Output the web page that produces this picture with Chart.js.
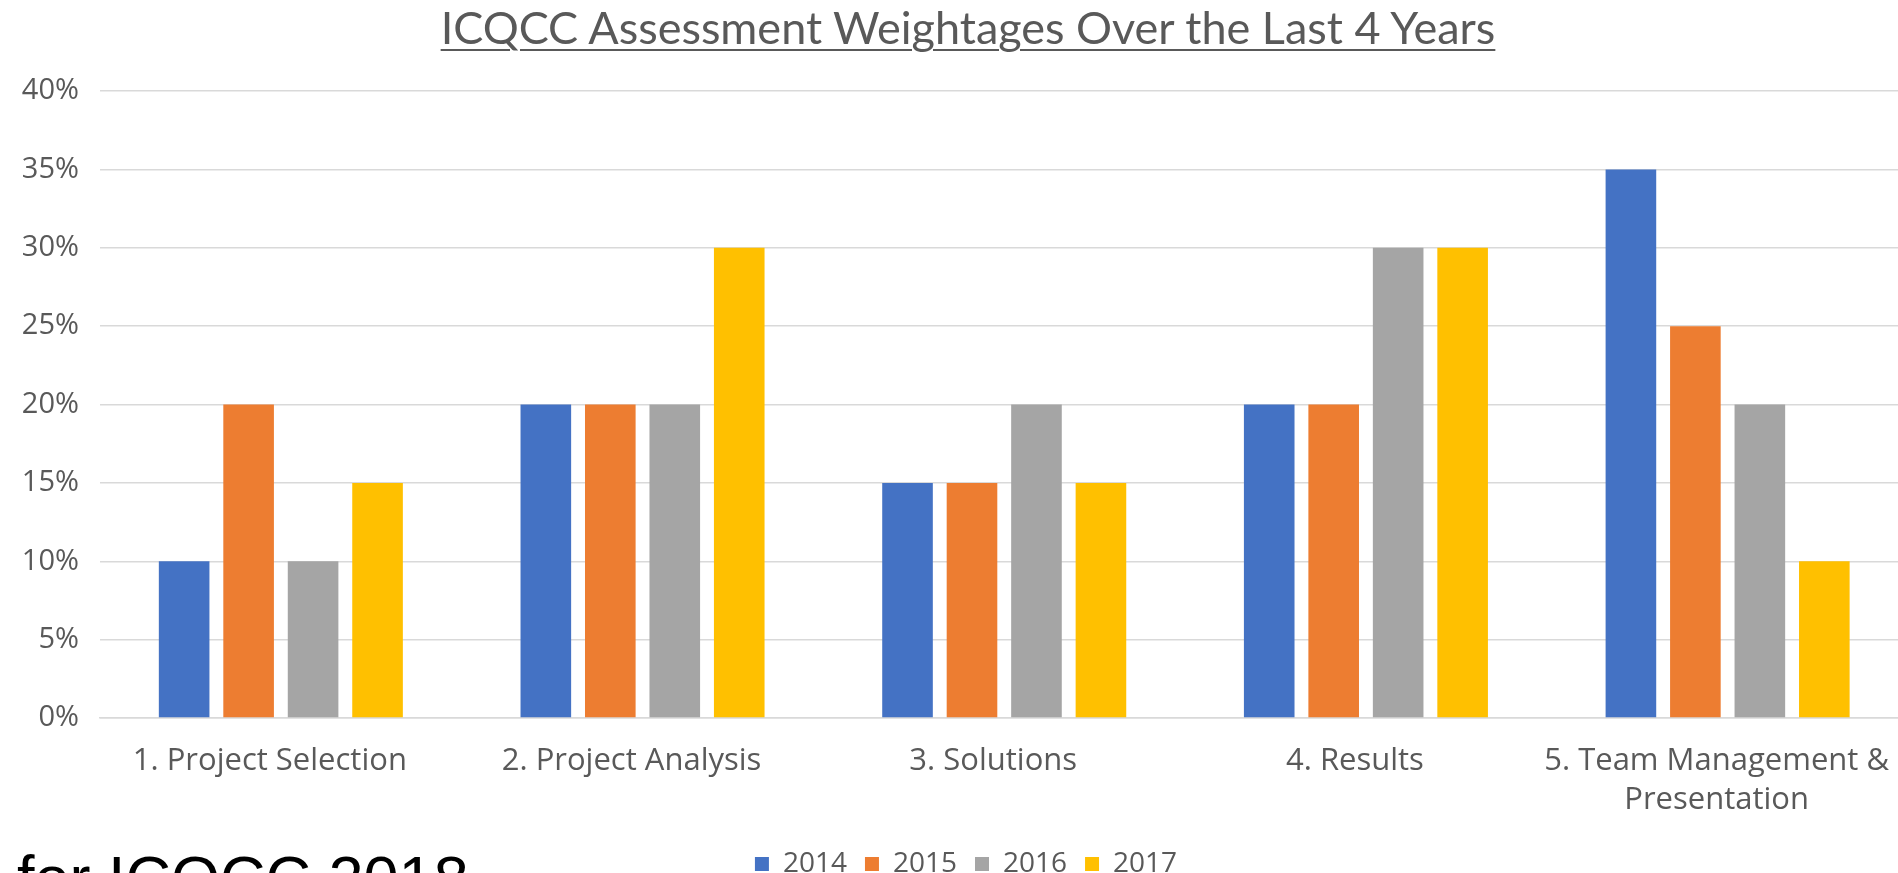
<!DOCTYPE html>
<html>
<head>
<meta charset="utf-8">
<title>ICQCC Assessment Weightages</title>
<script src="https://cdn.jsdelivr.net/npm/chart.js@4"></script>
<style>
  html, body { margin: 0; padding: 0; background: #fff; overflow: hidden; }
  #wrap { position: relative; width: 1898px; height: 873px; overflow: hidden; }
  #chart { position: absolute; left: 0; top: 0; }
  #title {
    position: absolute; left: 0; width: 1936px; top: 0;
    text-align: center; font: 45px Lato, sans-serif; line-height: 54px;
    color: #595959; text-decoration: underline; text-decoration-thickness: 2px; text-underline-offset: 5px;
  }
  #footer {
    position: absolute; left: 17px; top: 841px;
    font: 63px "Liberation Sans", Arial, sans-serif; color: #000; line-height: 74px; white-space: nowrap;
  }
</style>
</head>
<body>
<div id="wrap">
  <!-- 원본 그림은 오른쪽이 잘려 있어서 캔버스를 조금 넓게 -->
  <canvas id="chart" width="1924" height="873"></canvas>
  <div id="title">ICQCC Assessment Weightages Over the Last 4 Years</div>
  <div id="footer">for ICQCC 2018</div>
</div>
<script>
// 평가 항목
const categories = [
  '1. Project Selection',
  '2. Project Analysis',
  '3. Solutions',
  '4. Results',
  ['5. Team Management &', 'Presentation'],
];
const years = ['2014', '2015', '2016', '2017'];
const w2014 = [10, 20, 15, 20, 35];
const w2015 = [20, 20, 15, 20, 25];
const w2016 = [10, 20, 20, 30, 20];
const w2017 = [15, 30, 15, 30, 10];
const yTicks = [0, 5, 10, 15, 20, 25, 30, 35, 40];

const colors = ['#4472C4', '#ED7D31', '#A5A5A5', '#FFC000'];
const series = [w2014, w2015, w2016, w2017];
const textColor = '#595959';
const font = '"Open Sans", sans-serif';

// 범례 위치 보정 (캔버스가 넓어진 만큼)
const legendShift = {
  id: 'legendShift',
  afterLayout(chart) {
    chart.legend.left += 4;
    chart.legend.right += 4;
  },
};

new Chart(document.getElementById('chart').getContext('2d'), {
  type: 'bar',
  plugins: [legendShift],
  data: {
    labels: categories,
    datasets: years.map((y, i) => ({
      label: y,
      data: series[i],
      backgroundColor: colors[i],
      borderWidth: 0,
      categoryPercentage: 0.713,
      barPercentage: 0.785,
    })),
  },
  options: {
    responsive: false,
    animation: false,
    layout: { padding: { top: 91, left: 0, right: 0, bottom: -15 } },
    plugins: {
      title: { display: false },
      tooltip: { enabled: false },
      legend: {
        position: 'bottom',
        labels: {
          boxWidth: 14, boxHeight: 14, padding: 18,
          color: textColor, font: { family: font, size: 28 },
        },
      },
    },
    scales: {
      y: {
        min: 0, max: 40,
        afterFit(scale) { scale.width = 100; },
        afterBuildTicks(scale) { scale.ticks = yTicks.map(v => ({ value: v })); },
        ticks: {
          padding: 21, color: textColor, font: { family: font, size: 29 },
          callback: v => v + '%',
        },
        grid: { color: '#D9D9D9', lineWidth: 1.5, drawTicks: false },
        border: { display: false },
      },
      x: {
        afterFit(scale) { scale.height = 114; },
        ticks: {
          padding: 24, labelOffset: -11, color: textColor, maxRotation: 0,
          font: { family: font, size: 31, lineHeight: 1.26 },
        },
        grid: { display: false, drawTicks: false },
        border: { color: '#D9D9D9', width: 1.5 },
      },
    },
  },
});
</script>
</body>
</html>
